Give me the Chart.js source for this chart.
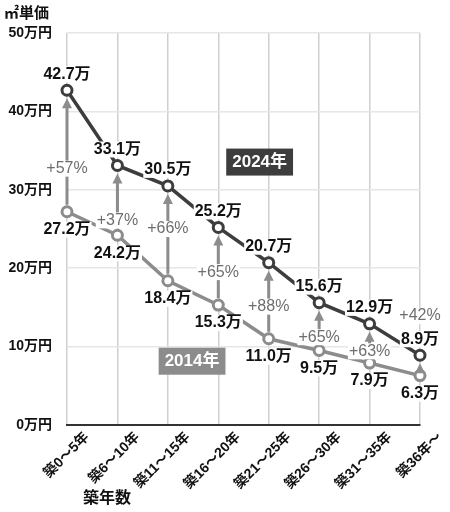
<!DOCTYPE html>
<html>
<head>
<meta charset="utf-8">
<script src="https://cdn.jsdelivr.net/npm/chart.js@4.4.1/dist/chart.umd.min.js"></script>
<style>
  html, body { margin: 0; padding: 0; background: #fff; }
</style>
</head>
<body>
<canvas id="grafico" width="450" height="512"></canvas>
<script>
// dados
const categorias = ['築0〜5年', '築6〜10年', '築11〜15年', '築16〜20年', '築21〜25年', '築26〜30年', '築31〜35年', '築36年〜'];
const valores2024 = [42.7, 33.1, 30.5, 25.2, 20.7, 15.6, 12.9, 8.9];
const valores2014 = [27.2, 24.2, 18.4, 15.3, 11.0, 9.5, 7.9, 6.3];
const aumento = [57, 37, 66, 65, 88, 65, 63, 42];
const ticksY = [0, 10, 20, 30, 40, 50];

// onde fica cada rótulo de % (em unidades do eixo y)
const posPct = [32.7, 26.1, 25.0, 19.5, 15.1, 11.2, 9.4, 13.9];

const FONTE = '"Liberation Sans", "Noto Sans CJK JP", sans-serif';
const COR2024 = '#3d3d3d';
const COR2014 = '#8c8c8c';

function etiqueta(ctx, texto, x, y, font, cor, fundo) {
    ctx.font = font;
    ctx.textAlign = 'center';
    ctx.textBaseline = 'middle';
    if (fundo) {
        const w = ctx.measureText(texto).width;
        ctx.fillStyle = fundo;
        ctx.fillRect(x - w / 2 - 1, y - 8, w + 2, 16);
    }
    ctx.fillStyle = cor;
    ctx.fillText(texto, x, y);
}

function caixa(ctx, texto, cx, cy, fundo) {
    ctx.font = 'bold 17px ' + FONTE;
    const w = ctx.measureText(texto).width + 12;
    ctx.fillStyle = fundo;
    ctx.fillRect(cx - w / 2, cy - 13, w, 27);
    ctx.fillStyle = '#fff';
    ctx.textAlign = 'center';
    ctx.textBaseline = 'middle';
    ctx.fillText(texto, cx, cy + 1);
}

const anotacoes = {
    id: 'anotacoes',
    afterDatasetsDraw(chart) {
        const ctx = chart.ctx;
        const x = chart.scales.x;
        const y = chart.scales.y;
        ctx.save();

        // setas 2014 -> 2024
        ctx.strokeStyle = COR2014;
        ctx.fillStyle = COR2014;
        ctx.lineWidth = 3;
        categorias.forEach((c, i) => {
            const px = x.getPixelForValue(i);
            const y0 = y.getPixelForValue(valores2014[i]) - 7;
            const y1 = y.getPixelForValue(valores2024[i]) + 8;
            ctx.beginPath();
            ctx.moveTo(px, y0);
            ctx.lineTo(px, y1 + 8);
            ctx.stroke();
            ctx.beginPath();
            ctx.moveTo(px, y1);
            ctx.lineTo(px - 5, y1 + 10);
            ctx.lineTo(px + 5, y1 + 10);
            ctx.closePath();
            ctx.fill();
        });

        // rótulos de valores
        categorias.forEach((c, i) => {
            const px = x.getPixelForValue(i);
            etiqueta(ctx, valores2024[i].toFixed(1) + '万', px, y.getPixelForValue(valores2024[i]) - 16,
                'bold 16px ' + FONTE, '#111', '#fff');
            etiqueta(ctx, valores2014[i].toFixed(1) + '万', px, y.getPixelForValue(valores2014[i]) + 18,
                'bold 16px ' + FONTE, '#111', '#fff');
        });

        // rótulos de %
        categorias.forEach((c, i) => {
            const px = x.getPixelForValue(i);
            etiqueta(ctx, '+' + aumento[i] + '%', px, y.getPixelForValue(posPct[i]),
                '16px ' + FONTE, '#6e6e6e', '#fff');
        });

        // legendas em caixa
        caixa(ctx, '2024年', x.getPixelForValue(3.82), y.getPixelForValue(33.6), COR2024);
        caixa(ctx, '2014年', x.getPixelForValue(2.48), y.getPixelForValue(8.2), COR2014);

        // títulos
        ctx.fillStyle = '#111';
        ctx.textAlign = 'left';
        ctx.textBaseline = 'middle';
        ctx.font = 'bold 15px ' + FONTE;
        ctx.fillText('㎡単価', 4, 14);
        ctx.font = 'bold 16px ' + FONTE;
        ctx.fillText('築年数', 83, 499);

        ctx.restore();
    }
};

new Chart(document.getElementById('grafico'), {
    type: 'line',
    data: {
        labels: categorias,
        datasets: [
            {
                label: '2024年',
                data: valores2024,
                borderColor: COR2024,
                borderWidth: 3.5,
                pointRadius: 5,
                pointBorderWidth: 3,
                pointBackgroundColor: '#fff',
                pointBorderColor: COR2024,
                tension: 0
            },
            {
                label: '2014年',
                data: valores2014,
                borderColor: COR2014,
                borderWidth: 3.5,
                pointRadius: 5,
                pointBorderWidth: 3,
                pointBackgroundColor: '#fff',
                pointBorderColor: COR2014,
                tension: 0
            }
        ]
    },
    options: {
        responsive: false,
        animation: false,
        layout: { padding: { top: 33, right: 30, left: 0, bottom: 0 } },
        plugins: {
            legend: { display: false },
            tooltip: { enabled: false }
        },
        scales: {
            x: {
                grid: { color: '#cfcfcf', lineWidth: 1.5, drawTicks: false },
                border: { color: '#333', width: 2 },
                ticks: {
                    minRotation: 45,
                    maxRotation: 45,
                    labelOffset: 20,
                    padding: 4,
                    color: '#111',
                    font: { family: FONTE, size: 14, weight: 'bold' }
                },
                afterFit(scale) { scale.height = 87; }
            },
            y: {
                min: 0,
                max: 50,
                afterBuildTicks(scale) { scale.ticks = ticksY.map(v => ({ value: v })); },
                grid: { color: '#e6e6e6', lineWidth: 1.5, drawTicks: false },
                border: { display: false },
                ticks: {
                    padding: 15,
                    color: '#111',
                    font: { family: FONTE, size: 14, weight: 'bold' },
                    callback: v => v + '万円'
                },
                afterFit(scale) { scale.width = 67; }
            }
        }
    },
    plugins: [anotacoes]
});
</script>
</body>
</html>
